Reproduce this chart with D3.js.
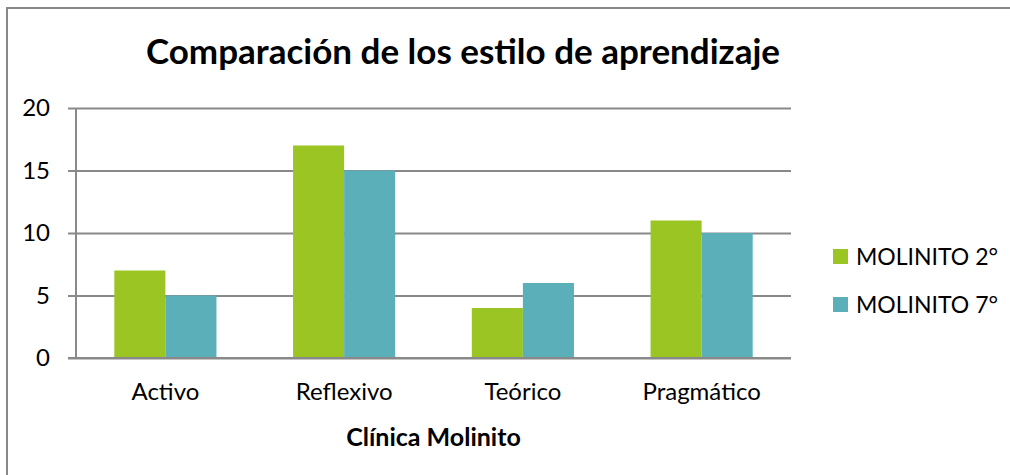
<!DOCTYPE html>
<html>
<head>
<meta charset="utf-8">
<script src="https://cdn.jsdelivr.net/npm/d3@7"></script>
<style>
  body { margin: 0; background: #fff; }
  text { font-family: Lato, "Open Sans", sans-serif; fill: #000; }
</style>
</head>
<body>
<div id="chart"></div>
<script>
// Data
const categories = ['Activo', 'Reflexivo', 'Teórico', 'Pragmático']
const seriesNames = ['MOLINITO 2°', 'MOLINITO 7°']
const molinito2 = [7, 17, 4, 11]
const molinito7 = [5, 15, 6, 10]
const yTicks = [0, 5, 10, 15, 20]

const chartTitle = 'Comparación de los estilo de aprendizaje'
const xTitle = 'Clínica Molinito'

// Dimensions
const width = 1010
const height = 475
const plot = { left: 76, right: 791, top: 108, bottom: 358 }
const colors = ['#9bc523', '#5aafb9']
const gridColor = '#898989'

const svg = d3.select('#chart')
  .append('svg')
  .attr('width', width)
  .attr('height', height)

// Outer border
svg.append('path')
  .attr('d', `M7,${height} V8 H${width}`)
  .attr('fill', 'none')
  .attr('stroke', gridColor)
  .attr('stroke-width', 2)

// Scales
const scaleX = d3.scaleBand()
  .domain(categories)
  .range([plot.left, plot.right])
  .paddingInner(1.5 / 3.5)
  .paddingOuter(0.75 / 3.5)

const scaleS = d3.scaleBand()
  .domain(seriesNames)
  .range([0, scaleX.bandwidth()])

const scaleY = d3.scaleLinear()
  .domain([0, 20])
  .range([plot.bottom, plot.top])

// Gridlines + y axis
const yAxis = d3.axisLeft(scaleY)
  .tickValues(yTicks)
  .tickSize(-(plot.right - plot.left))
  .tickPadding(26)

const gy = svg.append('g')
  .attr('transform', `translate(${plot.left},0)`)
  .call(yAxis)
gy.select('.domain').remove()
gy.selectAll('.tick line')
  .attr('x1', -8)
  .attr('stroke', gridColor)
  .attr('stroke-width', 2)
gy.selectAll('.tick text')
  .style('font-size', '24px')
  .attr('fill', '#000')

// Bars
const table = categories.map((c, i) => ({ cat: c, values: [molinito2[i], molinito7[i]] }))
const groups = svg.selectAll('.group')
  .data(table)
  .enter()
  .append('g')
  .attr('class', 'group')
  .attr('transform', (d) => `translate(${scaleX(d.cat)},0)`)
groups.selectAll('rect')
  .data((d) => d.values.map((v, j) => ({ name: seriesNames[j], value: v, idx: j })))
  .enter()
  .append('rect')
  .attr('x', (d) => scaleS(d.name))
  .attr('y', (d) => scaleY(d.value))
  .attr('width', scaleS.bandwidth())
  .attr('height', (d) => scaleY(0) - scaleY(d.value))
  .attr('fill', (d) => colors[d.idx])

// Axis lines
svg.append('line')
  .attr('x1', plot.left).attr('x2', plot.left)
  .attr('y1', plot.top).attr('y2', plot.bottom)
  .attr('stroke', gridColor).attr('stroke-width', 2)
svg.append('line')
  .attr('x1', plot.left - 8).attr('x2', plot.right)
  .attr('y1', plot.bottom).attr('y2', plot.bottom)
  .attr('stroke', gridColor).attr('stroke-width', 2)

// Category labels
const xAxis = d3.axisBottom(scaleX).tickSize(0).tickPadding(25)
const gx = svg.append('g')
  .attr('transform', `translate(0,${plot.bottom})`)
  .call(xAxis)
gx.select('.domain').remove()
gx.selectAll('.tick text')
  .style('font-size', '24px')
  .attr('fill', '#000')

// Titles
svg.append('text')
  .attr('x', 463)
  .attr('y', 64)
  .attr('text-anchor', 'middle')
  .style('font-size', '35px')
  .style('font-weight', 'bold')
  .text(chartTitle)

svg.append('text')
  .attr('x', (plot.left + plot.right) / 2)
  .attr('y', 446)
  .attr('text-anchor', 'middle')
  .style('font-size', '25px')
  .style('font-weight', 'bold')
  .text(xTitle)

// Legend
const legend = svg.selectAll('.legend')
  .data(seriesNames)
  .enter()
  .append('g')
  .attr('class', 'legend')
  .attr('transform', (d, i) => `translate(833,${249 + i * 48})`)
legend.append('rect')
  .attr('width', 15)
  .attr('height', 15)
  .attr('fill', (d, i) => colors[i])
legend.append('text')
  .attr('x', 23)
  .attr('y', 7.5)
  .attr('dy', '0.35em')
  .style('font-size', '23px')
  .text((d) => d)
</script>
</body>
</html>
